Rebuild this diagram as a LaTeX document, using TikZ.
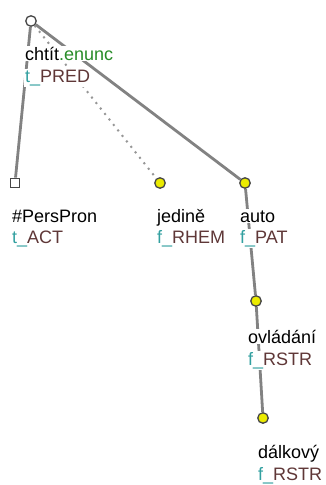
\documentclass[tikz,border=0pt]{standalone}
\usepackage{fontspec}
\setmainfont{Liberation Sans}
\usetikzlibrary{backgrounds}
\definecolor{tealc}{RGB}{50,160,160}
\definecolor{functc}{RGB}{95,55,55}
\definecolor{greenc}{RGB}{40,140,40}
\definecolor{edgec}{RGB}{130,130,130}
\definecolor{dotc}{RGB}{150,150,150}
\definecolor{yel}{RGB}{235,235,0}
\definecolor{outl}{RGB}{70,70,70}
\tikzset{
  yn/.style={circle,draw=outl,fill=yel,line width=1.3pt,minimum size=10.5pt,inner sep=0pt},
  rootn/.style={circle,draw=outl,fill=white,line width=1.3pt,minimum size=10.5pt,inner sep=0pt},
  sqn/.style={rectangle,draw=outl,fill=white,line width=1.3pt,minimum size=9.5pt,inner sep=0pt},
  lab/.style={anchor=base west,fill=white,inner sep=1pt,font=\fontsize{18}{21}\selectfont},
  edg/.style={draw=edgec,line width=2.8pt},
  dedg/.style={draw=dotc,line width=2pt,dash pattern=on 2pt off 5pt},
}
\newcommand{\fn}[2]{\textcolor{tealc}{#1\_}\textcolor{functc}{#2}}
\begin{document}
\begin{tikzpicture}[x=1pt,y=-1pt]
\useasboundingbox (0,0) rectangle (325,485);
\begin{pgfonlayer}{background}
\fill[white] (0,0) rectangle (325,485);
\end{pgfonlayer}
% nodes
\node[rootn] (root) at (31,21) {};
\node[sqn] (pers) at (15,183) {};
\node[yn] (jed) at (160,183) {};
\node[yn] (auto) at (245,183) {};
\node[yn] (ovl) at (256,301) {};
\node[yn] (dal) at (263,418) {};
% edges
\begin{pgfonlayer}{background}
\draw[edg] (root) -- (pers);
\draw[edg] (root) -- (auto);
\draw[dedg] (root) -- (jed);
\draw[edg] (auto) -- (ovl);
\draw[edg] (ovl) -- (dal);
\end{pgfonlayer}
% labels
\node[lab] (rootw) at (24,60) {chtít\textcolor{greenc}{.enunc}};
\node[lab] (rootf) at (24,82) {\fn{t}{PRED}};
\node[lab] (persw) at (11,222) {\#PersPron};
\node[lab] (persf) at (11,243) {\fn{t}{ACT}};
\node[lab] (jedw) at (156,222) {jedině};
\node[lab] (jedf) at (156,243) {\fn{f}{RHEM}};
\node[lab] (autow) at (239,222) {auto};
\node[lab] (autof) at (239,243) {\fn{f}{PAT}};
\node[lab] (ovlw) at (247,343) {ovládání};
\node[lab] (ovlf) at (247,365) {\fn{f}{RSTR}};
\node[lab] (dalw) at (257,458) {dálkový};
\node[lab] (dalf) at (257,480) {\fn{f}{RSTR}};
\end{tikzpicture}
\end{document}
